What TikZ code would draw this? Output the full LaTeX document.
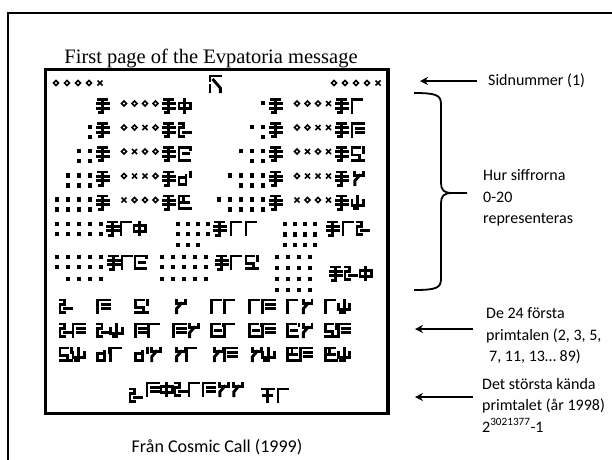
\documentclass[tikz,border=0pt]{standalone}
\usepackage{fontspec}
\setmainfont{Carlito}
\newfontfamily\msgfont{Liberation Serif}
\usetikzlibrary{arrows.meta, positioning}

% strokes of the message digits, grid 0..4 (y down)
\newcommand{\digitstrokes}[1]{%
  \ifcase#1\relax
    \draw[gl] (2,0) -- (2,4.4); \draw[gl] (0,1.2) rectangle (4,3.2);% 0
  \or
    \draw[gl] (0,4.4) -- (0,0) -- (3.2,0);% 1
  \or
    \draw[gl] (0,0) -- (1.4,0) -- (1.4,1.4) -- (0,1.4) -- (0,4.4) -- (1.4,4.4); \draw[gl] (1.4,3) -- (4,3);% 2
  \or
    \draw[gl] (0,4.4) -- (0,0) -- (4,0); \draw[gl] (1.4,1.6) -- (4,1.6); \draw[gl] (1.4,3) -- (4,3);% 3
  \or
    \draw[gl] (2.8,0) -- (0,0) -- (0,4.4) -- (3.6,4.4); \draw[gl] (1.4,2.2) -- (3.2,2.2); \draw[gl] (4,0) -- (4,0.6);% 4
  \or
    \draw[gl] (2.6,0) -- (0,0) -- (0,2.6) -- (2.6,2.6) -- (2.6,4.4); \draw[gl] (0,4.4) -- (4,4.4); \draw[gl] (4,0) -- (4,1.6);% 5
  \or
    \draw[gl] (2.4,2) -- (0,2) -- (0,4.4) -- (2.4,4.4) -- (2.4,1.2); \draw[gl] (4,0) -- (4,1.4);% 6
  \or
    \draw[gl] (1,0) -- (1,1.2) -- (4,1.2) -- (4,0); \draw[gl] (2.6,1.2) -- (1,3) -- (1,4.4);% 7
  \or
    \draw[gl] (3.2,0) -- (0,0) -- (0,4.4) -- (4,4.4); \draw[gl] (0,2.2) -- (3.2,2.2); \draw[gl] (1.6,0) -- (1.6,2.2);% 8
  \or
    \draw[gl] (0,1.6) -- (0,3.4) -- (4,3.4) -- (4,1.6); \draw[gl] (2,0) -- (2,4.4) -- (0.8,4.4);% 9
  \or
    \draw[gl] (0,0) -- (4,0); \draw[gl] (2,0) -- (2,4.4); \draw[gl] (0.6,2.2) -- (3.4,2.2);% minus
  \fi}

\begin{document}
\begin{tikzpicture}[
    x=1pt, y=-1pt,
    gl/.style={line width=2.9pt, line cap=rect, scale=2.9},
    frame/.style={line width=2pt},
    msgbox/.style={line width=3.5pt},
    pointer/.style={-{Stealth[length=8pt, width=8pt]}, line width=1.8pt},
    bracepen/.style={line width=1.8pt},
    note/.style={font=\fontsize{16}{21.5}\selectfont, align=left, anchor=west, inner sep=0pt},
    dg/.pic={\digitstrokes{#1}},
    eqs/.pic={
        \draw[gl] (0.6,0) -- (3.4,0);
        \draw[gl] (0,1.5) -- (4,1.5);
        \draw[gl] (0,3) -- (4,3);
        \draw[gl] (2,0) -- (2,4.6) -- (1,4.6);
    },
    bz/.pic={\draw[line width=1.6pt] (0,-2.6) -- (2.6,0) -- (0,2.6) -- (-2.6,0) -- cycle;},
    bo/.pic={\draw[line width=1.7pt] (-2.5,-2.5) -- (2.5,2.5) (-2.5,2.5) -- (2.5,-2.5);},
    sq/.pic={\fill (-2.1,-2.1) rectangle (2.1,2.1);},
    pg/.pic={
        \draw[gl] (0,1.4) -- (0,0) -- (3.6,0);
        \draw[gl] (1.2,1.4) -- (2.4,2.8) -- (3.6,4.2) -- (3.6,5.4);
        \draw[gl] (0,3.4) -- (0,5.4);
    }
]
\useasboundingbox (0,0) rectangle (612,459);

% outer frame and the message page
\draw[frame] (8,470) -- (8,12.5) -- (620,12.5);
\draw[msgbox] (45.5,69.5) rectangle (388,413.5);
\node[font=\msgfont\fontsize{20.5}{24}\selectfont, anchor=base] (title) at (211,63) {First page of the Evpatoria message};
\draw[line width=0.8pt, gray] (203,49) -- (207,49);

% page number
\foreach \b [count=\k from 0] in {0,0,0,0,1} {
    \ifnum\b=0 \pic at ({56+11*\k},83) {bz}; \pic at ({334+11*\k},83) {bz};
    \else \pic at ({56+11*\k},83) {bo}; \pic at ({334+11*\k},83) {bo}; \fi
}
\pic at (210,76) {pg};

% counting 0-9
\foreach \cx/\y/\n/\bits/\d in {
    0/99.5/0/{0,0,0,0}/0, 0/123.5/2/{0,0,1,0}/2, 0/147.5/4/{0,1,0,0}/4,
    0/172/6/{0,1,1,0}/6, 0/196/8/{1,0,0,0}/8,
    173/99.5/1/{0,0,0,1}/1, 173/123.5/3/{0,0,1,1}/3, 173/147.5/5/{0,1,0,1}/5,
    173/172/7/{0,1,1,1}/7, 173/196/9/{1,0,0,1}/9} {
    \ifnum\n>0
        \foreach \i in {1,...,\n}
            \pic at ({\cx+90-11*floor((\i-1)/2)}, {\y+3.5+10*mod(\i-1,2)}) {sq};
    \fi
    \pic at ({\cx+97},\y) {eqs};
    \foreach \b [count=\k from 0] in \bits {
        \ifnum\b=0 \pic at ({\cx+124+10.5*\k},{\y+4}) {bz};
        \else \pic at ({\cx+124+10.5*\k},{\y+4}) {bo}; \fi
    }
    \pic at ({\cx+163},\y) {eqs};
    \pic at ({\cx+179},\y) {dg=\d};
}

% counting 10-20
\foreach \i in {0,...,4} \foreach \j in {0,1}
    \pic at ({57+11*\i},{224+10*\j}) {sq};
\pic at (107,222) {eqs}; \pic at (121,222) {dg=1}; \pic at (134,222) {dg=0};

\foreach \i in {0,...,3} \foreach \j in {0,1}
    \pic at ({178+10*\i},{224+10*\j}) {sq};
\foreach \i in {0,...,2} \pic at ({178+10*\i},245) {sq};
\pic at (214,222) {eqs}; \pic at (231,222) {dg=1}; \pic at (246,222) {dg=1};

\foreach \i in {0,...,3} \foreach \j in {0,1,2}
    \pic at ({285+10*\i},{224+10.5*\j}) {sq};
\pic at (327,222) {eqs}; \pic at (343,222) {dg=1}; \pic at (357,222) {dg=2};

\foreach \i in {0,...,4} \foreach \j in {0,1}
    \pic at ({57+11*\i},{257+10*\j}) {sq};
\foreach \i in {1,...,4} \pic at ({57+11*\i},279) {sq};
\pic at (108,256) {eqs}; \pic at (122,256) {dg=1}; \pic at (135,256) {dg=4};

\foreach \i in {0,...,4} \foreach \j in {0,1}
    \pic at ({162+11*\i},{257+10*\j}) {sq};
\foreach \i in {0,...,4} \pic at ({162+11*\i},279) {sq};
\pic at (216,256) {eqs}; \pic at (231,256) {dg=1}; \pic at (246,256) {dg=5};

\foreach \i in {0,...,3} \foreach \j in {0,...,3}
    \pic at ({277+11*\i},{257+11*\j}) {sq};
\pic at (330,267) {eqs}; \pic at (345,267) {dg=2}; \pic at (360,267) {dg=0};

% the first 24 primes
\foreach \k/\d in {0/2, 1/3, 2/5, 3/7}
    \pic at ({60+37.9*\k},300) {dg=\d};
\foreach \k/\r/\a/\b in {4/0/1/1, 5/0/1/3, 6/0/1/7, 7/0/1/9,
    0/1/2/3, 1/1/2/9, 2/1/3/1, 3/1/3/7, 4/1/4/1, 5/1/4/3, 6/1/4/7, 7/1/5/3,
    0/2/5/9, 1/2/6/1, 2/2/6/7, 3/2/7/1, 4/2/7/3, 5/2/7/9, 6/2/8/3, 7/2/8/9} {
    \pic at ({60+37.9*\k},{300+24*\r}) {dg=\a};
    \pic at ({73+37.9*\k},{300+24*\r}) {dg=\b};
}

% largest known prime 2^3021377-1
\pic at (130,389) {dg=2};
\foreach \d [count=\k from 0] in {3,0,2,1,3,7,7}
    \pic at ({147+14*\k},383) {dg=\d};
\pic at (262,389) {dg=10}; \pic at (278,389) {dg=1};

% notes on the right
\node[note] (sid) at (488,81) {Sidnummer (1)};
\coordinate (sidtip) at (420,81);
\draw[pointer] ([xshift=-11pt]sid.west) -- (sidtip);

\draw[bracepen] (414,93) .. controls (436,93) and (441,95) .. (441,104) -- (441,183)
    .. controls (441,190) and (444,193) .. (452,193) -- (467,193);
\draw[bracepen] (414,290) .. controls (436,290) and (441,288) .. (441,279) -- (441,203)
    .. controls (441,196) and (444,193) .. (452,193);
\node[note] (digits) at (483,198) {Hur siffrorna\\0-20\\representeras};

\node[note] (primes) at (486,336) {De 24 första\\primtalen (2, 3, 5,\\\hspace*{3pt}7, 11, 13… 89)};
\coordinate (primestip) at (415,329);
\draw[pointer] (473,329) -- (primestip);

\node[note] (largest) at (482,405) {Det största kända\\primtalet (år 1998)\\2\textsuperscript{3021377}-1};
\coordinate (largesttip) at (415,397);
\draw[pointer] (473,397) -- (largesttip);

\node[font=\fontsize{18}{22}\selectfont, inner sep=0pt] (source) at (217,447) {Från Cosmic Call (1999)};
\end{tikzpicture}
\end{document}
